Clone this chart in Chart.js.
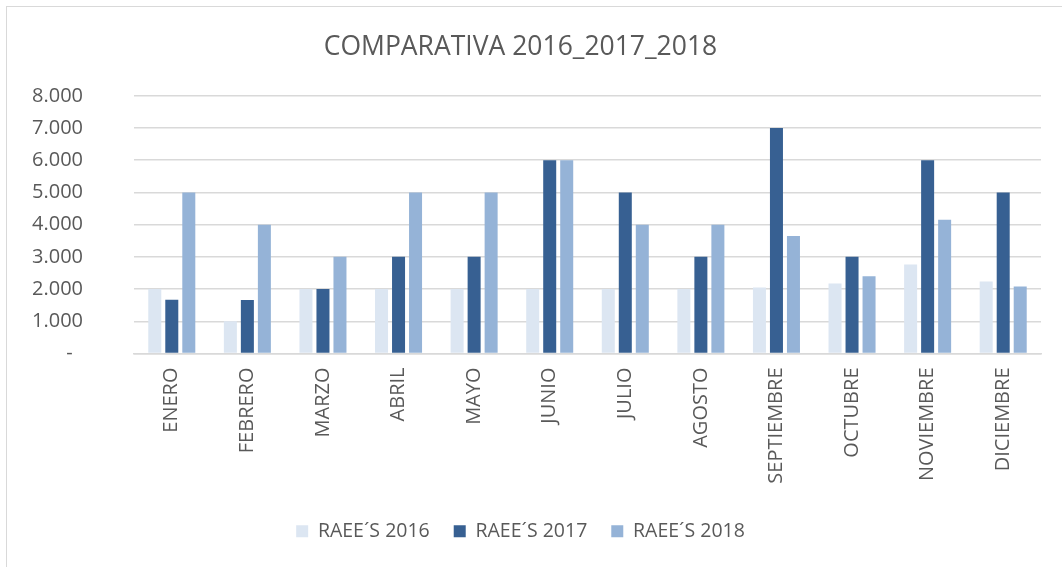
<!DOCTYPE html>
<html>
<head>
<meta charset="utf-8">
<script src="https://cdn.jsdelivr.net/npm/chart.js@4"></script>
<style>
  html, body { margin: 0; padding: 0; background: #fff; }
  #wrap { position: relative; width: 1062px; height: 567px; overflow: hidden; }
  #frame { position: absolute; left: 6px; top: 6px; width: 1070px; height: 580px; border: 1.5px solid #d9d9d9; box-sizing: border-box; }
  canvas { position: absolute; left: 0; top: 0; }
</style>
</head>
<body>
<div id="wrap">
  <div id="frame"></div>
  <canvas id="chart" width="1062" height="567"></canvas>
</div>
<script>
// data
const months = ['ENERO', 'FEBRERO', 'MARZO', 'ABRIL', 'MAYO', 'JUNIO', 'JULIO', 'AGOSTO', 'SEPTIEMBRE', 'OCTUBRE', 'NOVIEMBRE', 'DICIEMBRE'];
const raee2016 = [2000, 1000, 2000, 2000, 2000, 2000, 2000, 2000, 2050, 2175, 2760, 2235];
const raee2017 = [1670, 1660, 2000, 3000, 3000, 6000, 5000, 3000, 7000, 3000, 6000, 5000];
const raee2018 = [5000, 4000, 3000, 5000, 5000, 6000, 4000, 4000, 3650, 2400, 4150, 2080];
const yTicks = [0, 1000, 2000, 3000, 4000, 5000, 6000, 7000, 8000];

const textColor = '#595959';
const gridColor = '#d9d9d9';
const font = "'Open Sans', sans-serif";

// 8000 -> "8.000", 0 -> "-"
const fmt = v => v === 0 ? '-  ' : v.toString().replace(/\B(?=(\d{3})+(?!\d))/g, '.');

const barOpts = { categoryPercentage: 0.675, barPercentage: 0.765 };

new Chart(document.getElementById('chart'), {
  type: 'bar',
  data: {
    labels: months,
    datasets: [
      { label: 'RAEE´S 2016', data: raee2016, backgroundColor: '#dce6f2', ...barOpts },
      { label: 'RAEE´S 2017', data: raee2017, backgroundColor: '#376092', ...barOpts },
      { label: 'RAEE´S 2018', data: raee2018, backgroundColor: '#95b3d7', ...barOpts }
    ]
  },
  options: {
    responsive: false,
    animation: false,
    layout: { padding: { left: 0, right: 21, top: 0, bottom: 16 } },
    plugins: {
      title: {
        display: true,
        text: 'COMPARATIVA 2016_2017_2018',
        color: textColor,
        font: { family: font, size: 26.5, weight: 'normal' },
        padding: { top: 32, bottom: 32 }
      },
      legend: {
        position: 'bottom',
        labels: {
          color: textColor,
          font: { family: font, size: 19.5 },
          boxWidth: 12,
          boxHeight: 12,
          padding: 24
        }
      },
      tooltip: { enabled: false }
    },
    scales: {
      x: {
        grid: { display: false, drawTicks: false },
        border: { color: gridColor, width: 1.5 },
        ticks: {
          color: textColor,
          font: { family: font, size: 20 },
          minRotation: 90,
          maxRotation: 90,
          padding: 14,
          autoSkip: false
        },
        afterFit: s => { s.height = 144; }
      },
      y: {
        min: 0,
        max: 8000,
        afterBuildTicks: s => { s.ticks = yTicks.map(v => ({ value: v })); },
        grid: { color: gridColor, lineWidth: 1.5, drawTicks: false },
        border: { display: false },
        ticks: {
          color: textColor,
          font: { family: font, size: 20 },
          padding: 51,
          callback: v => fmt(v)
        },
        afterFit: s => { s.width = 134; }
      }
    }
  }
});
</script>
</body>
</html>
